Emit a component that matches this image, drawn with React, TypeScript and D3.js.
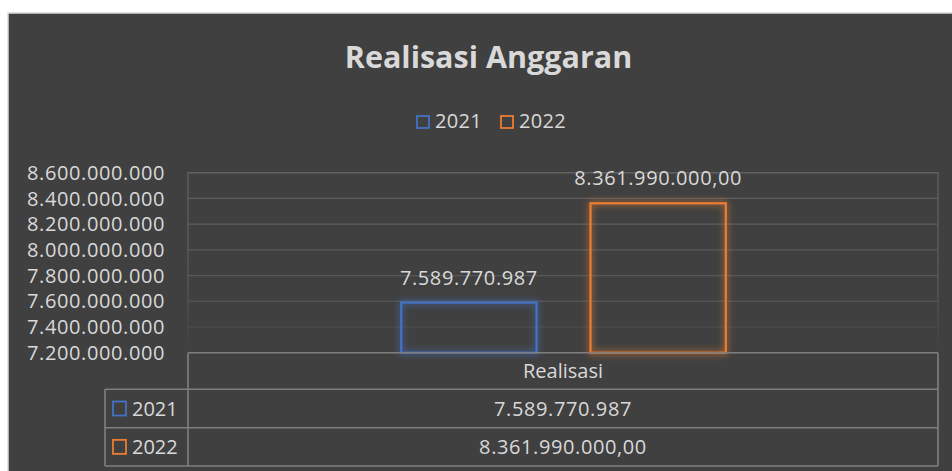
import React from "react";
import * as d3 from "d3";

const categories = ["Realisasi"];
const seriesNames = ["2021", "2022"];
const seriesValues = [7589770987, 8361990000];
const valueLabels = ["7.589.770.987", "8.361.990.000,00"];
const yTickValues = [7200000000, 7400000000, 7600000000, 7800000000, 8000000000, 8200000000, 8400000000, 8600000000];
const seriesColors = ["#4472C4", "#ED7D31"];
const title = "Realisasi Anggaran";

const W = 952;
const H = 471;
const FONT = "'Open Sans', 'Noto Sans', sans-serif";
const TXT = "#d9d9d9";

const locale = d3.formatLocale({ decimal: ",", thousands: ".", grouping: [3], currency: ["", ""] });
const fmt = locale.format(",");

export default function App() {
  const plotL = 188, plotR = 938, plotT = 172.7, plotB = 352.7;
  const y = d3.scaleLinear().domain([7200000000, 8600000000]).range([plotB, plotT]);
  const x = d3.scaleBand().domain(categories).range([plotL, plotR]);
  const bw = x.bandwidth();
  const x0 = x(categories[0]) as number;
  const inner = d3
    .scaleBand()
    .domain(seriesNames)
    .range([x0 + bw * 0.2843, x0 + bw * 0.7171])
    .paddingInner(0.285);

  const tableT = plotB, row1 = 389.3, row2 = 427.7, tableB = 466;
  const legendL = 105;
  const numStyle = { letterSpacing: "0.6px" } as React.CSSProperties;

  return (
    <svg width={W} height={H} style={{ position: "absolute", left: 0, top: 0 }}>
      <defs>
        <filter id="glow" x="-20%" y="-20%" width="140%" height="140%">
          <feGaussianBlur in="SourceGraphic" stdDeviation="3.5" result="b" />
          <feComponentTransfer in="b" result="b2">
            <feFuncA type="linear" slope="1.1" />
          </feComponentTransfer>
          <feMerge>
            <feMergeNode in="b2" />
            <feMergeNode in="SourceGraphic" />
          </feMerge>
        </filter>
        <linearGradient id="gridFade" gradientUnits="userSpaceOnUse" x1="0" y1={plotT} x2="0" y2={plotB}>
          <stop offset="0" stopColor="#616161" />
          <stop offset="0.65" stopColor="#575757" />
          <stop offset="1" stopColor="#404040" />
        </linearGradient>
      </defs>
      <rect x={0} y={0} width={W} height={H} fill="#ffffff" />
      <rect x={8} y={13} width={W} height={H} fill="#404040" stroke="#d9d9d9" strokeWidth={1.5} />

      <text x={488.5} y={68} textAnchor="middle" fill={TXT} fontFamily={FONT} fontWeight="bold" fontSize={30.5}>
        {title}
      </text>

      {/* legend */}
      {seriesNames.map((s, i) => {
        const lx = i === 0 ? 417 : 501;
        return (
          <g key={s}>
            <rect x={lx} y={116} width={12} height={12} fill="none" stroke={seriesColors[i]} strokeWidth={1.8} />
            <text x={lx + 18} y={128} fill={TXT} fontFamily={FONT} fontSize={20} style={{ letterSpacing: "0.3px" }}>
              {s}
            </text>
          </g>
        );
      })}

      {/* gridlines */}
      {yTickValues.slice(1).map((v) => (
        <line key={v} x1={plotL} x2={plotR} y1={y(v)} y2={y(v)} stroke="url(#gridFade)" strokeWidth={1.3} />
      ))}
      <rect x={plotL} y={plotT} width={plotR - plotL} height={plotB - plotT} fill="none" stroke="url(#gridFade)" strokeWidth={1.3} />

      {/* y tick labels */}
      {yTickValues.map((v) => (
        <text key={v} x={165} y={y(v)} dy="0.36em" textAnchor="end" fill={TXT} fontFamily={FONT} fontSize={20} style={numStyle}>
          {fmt(v)}
        </text>
      ))}

      {/* bars */}
      {seriesNames.map((s, i) => {
        const bx = inner(s) as number;
        const by = y(seriesValues[i]);
        return (
          <g key={s}>
            <rect
              x={bx}
              y={by}
              width={inner.bandwidth()}
              height={plotB - by}
              fill="none"
              stroke={seriesColors[i]}
              strokeWidth={2.2}
              filter="url(#glow)"
            />
            <text
              x={bx + inner.bandwidth() / 2}
              y={by - 18}
              textAnchor="middle"
              fill={TXT}
              fontFamily={FONT}
              fontSize={20}
              style={numStyle}
            >
              {valueLabels[i]}
            </text>
          </g>
        );
      })}

      {/* data table */}
      <g stroke="#7f7f7f" strokeWidth={1.6} fill="none">
        <line x1={plotL} x2={plotR} y1={tableT} y2={tableT} />
        <line x1={legendL} x2={plotR} y1={row1} y2={row1} />
        <line x1={legendL} x2={plotR} y1={row2} y2={row2} />
        <line x1={legendL} x2={plotR} y1={tableB} y2={tableB} />
        <line x1={plotL} x2={plotL} y1={tableT} y2={tableB} />
        <line x1={plotR} x2={plotR} y1={tableT} y2={tableB} />
        <line x1={legendL} x2={legendL} y1={row1} y2={tableB} />
      </g>
      <text x={(plotL + plotR) / 2} y={(tableT + row1) / 2} dy="0.36em" textAnchor="middle" fill={TXT} fontFamily={FONT} fontSize={20}>
        {categories[0]}
      </text>
      {seriesNames.map((s, i) => {
        const top = i === 0 ? row1 : row2;
        const bot = i === 0 ? row2 : tableB;
        const cy = (top + bot) / 2;
        return (
          <g key={s}>
            <rect x={113} y={cy - 7} width={13} height={14} fill="none" stroke={seriesColors[i]} strokeWidth={1.8} />
            <text x={132} y={cy} dy="0.36em" fill={TXT} fontFamily={FONT} fontSize={20}>
              {s}
            </text>
            <text x={(plotL + plotR) / 2} y={cy} dy="0.36em" textAnchor="middle" fill={TXT} fontFamily={FONT} fontSize={20} style={{ letterSpacing: "0.6px" }}>
              {valueLabels[i]}
            </text>
          </g>
        );
      })}
    </svg>
  );
}
